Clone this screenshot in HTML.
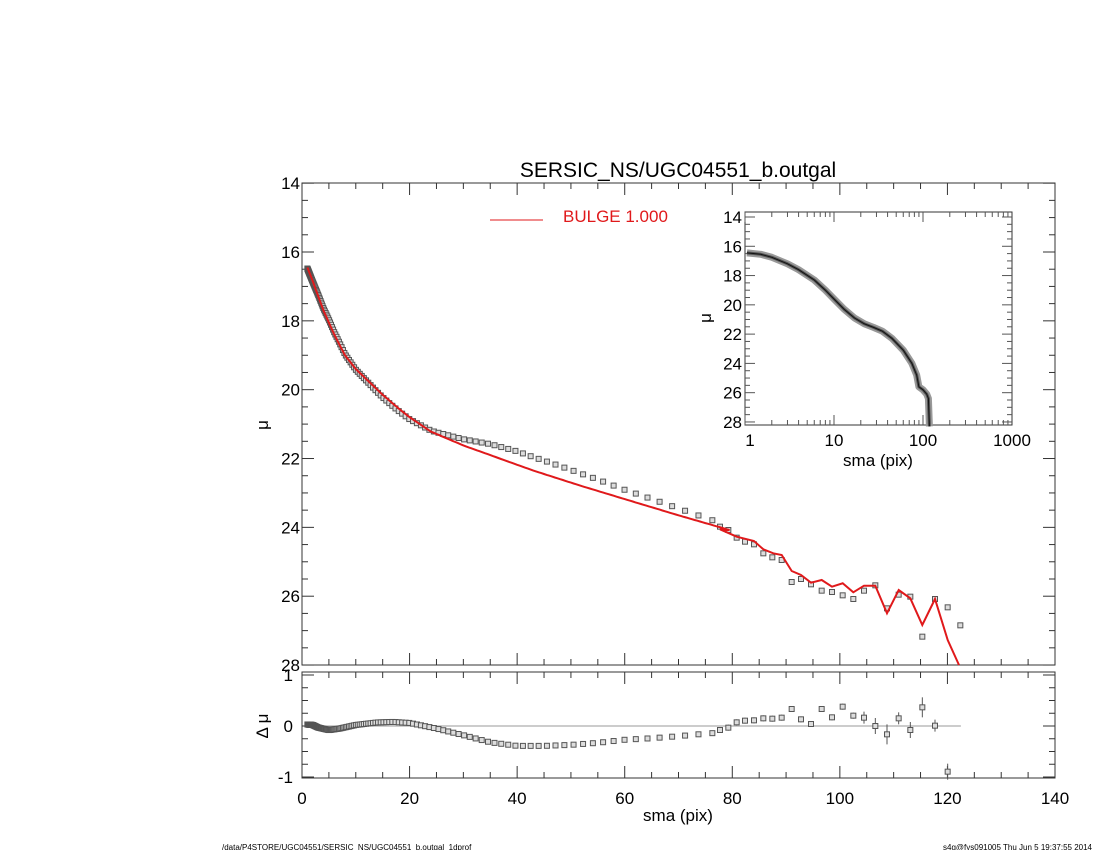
<!DOCTYPE html>
<html><head><meta charset="utf-8"><style>
html,body{margin:0;padding:0;background:#fff;width:1100px;height:850px;overflow:hidden}
svg{display:block;font-family:"Liberation Sans",sans-serif}
</style></head><body>
<svg id="s" width="1100" height="850" xmlns="http://www.w3.org/2000/svg"></svg>
<script>
const S=document.getElementById('s');let h='';
const L=302,R=1055,T=183,B=665;
const X=v=>L+v*(R-L)/140, Y=m=>252+(m-16)*34.42;
const RT=672,RB=778,RY=v=>726-51*v;
function interp(t,x){if(x<=t[0][0])return t[0][1];for(let i=1;i<t.length;i++){if(x<=t[i][0]){const a=t[i-1],b=t[i];return a[1]+(b[1]-a[1])*(x-a[0])/(b[0]-a[0]);}}return t[t.length-1][1];}
const model=[[1,16.45],[2,16.85],[4,17.7],[6,18.4],[8,19.0],[10,19.4],[12,19.7],[15,20.15],[18,20.55],[20,20.8],[24,21.22],[30,21.62],[43,22.35],[52,22.8],[61.5,23.25],[70,23.65],[80,24.1]];
const res=[[1,0.03],[2,0.02],[3,-0.03],[5,-0.08],[7,-0.05],[10,0.02],[14,0.07],[17,0.08],[20,0.06],[25,-0.05],[30,-0.18],[35,-0.32],[40,-0.39],[45,-0.39],[50,-0.37],[55,-0.33],[60,-0.27],[65,-0.24],[70,-0.2],[75,-0.15],[79,-0.12]];
const tz=[[0,80],[25,90],[50,113],[75,125],[102,133],[130,160],[157,172],[185,180],[215,246],[243,237],[273,253],[305,272],[336,276],[368,286],[400,297],[432,272],[466,256],[501,325],[536,284],[571,290],[607,410],[645,297],[683,322],[721,376]];
const tr=[[0,88],[50,110],[102,123],[130,148],[160,160],[185,165],[215,213],[243,225],[273,248],[305,240],[336,260],[368,250],[400,277],[432,257],[466,257],[501,340],[536,270],[571,295],[607,375],[645,297],[683,420],[717,495]];
const tres=[[0,690],[25,683],[50,667],[75,662],[102,661],[130,655],[157,656],[185,653],[215,627],[243,658],[273,672],[305,627],[336,652],[368,620],[400,647],[432,653],[466,678],[501,703],[536,655],[571,690],[607,622],[645,677],[683,815]];
function frame(x0,x1,y0,y1){h+=`<rect x="${x0}" y="${y0}" width="${x1-x0}" height="${y1-y0}" fill="none" stroke="#333" stroke-width="1"/>`;}
frame(L,R,T,B);frame(L,R,RT,RB);
for(let v=0;v<=140;v+=5){const x=X(v),len=v%20==0?12:6;
 h+=`<line x1="${x}" y1="${T}" x2="${x}" y2="${T+len}" stroke="#333"/><line x1="${x}" y1="${B}" x2="${x}" y2="${B-len}" stroke="#333"/>`;
 h+=`<line x1="${x}" y1="${RT}" x2="${x}" y2="${RT+len}" stroke="#333"/><line x1="${x}" y1="${RB}" x2="${x}" y2="${RB-len}" stroke="#333"/>`;
 if(v%20==0)h+=`<text x="${x}" y="804" font-size="17" text-anchor="middle">${v}</text>`;}
for(let m=14;m<=28;m+=0.5){const y=Y(m),len=m%2==0?12:6;
 h+=`<line x1="${L}" y1="${y}" x2="${L+len}" y2="${y}" stroke="#333"/><line x1="${R}" y1="${y}" x2="${R-len}" y2="${y}" stroke="#333"/>`;
 if(m%2==0)h+=`<text x="${L-2}" y="${y+6}" font-size="17" text-anchor="end">${m}</text>`;}
for(let v=-1;v<=1.01;v+=0.25){const y=RY(v),len=Math.abs(v%1)<0.01?12:6;
 h+=`<line x1="${L}" y1="${y}" x2="${L+len}" y2="${y}" stroke="#333"/><line x1="${R}" y1="${y}" x2="${R-len}" y2="${y}" stroke="#333"/>`;}
[[1,'1'],[0,'0'],[-1,'-1']].forEach(([v,t])=>h+=`<text x="${L-9}" y="${RY(v)+6}" font-size="17" text-anchor="end">${t}</text>`);
h+=`<line x1="${X(0.5)}" y1="${RY(0)}" x2="${X(122.5)}" y2="${RY(0)}" stroke="#999"/>`;
const xs=[];for(let x=1;x<77.5;x*=1.035)xs.push(x);
let dp='',rp='';
xs.forEach(x=>{const m=interp(model,x),r=interp(res,x);
 dp+=`<rect x="${X(x)-2.5}" y="${Y(m+r)-2.5}" width="5" height="5" fill="#ddd" stroke="#555" stroke-width="1"/>`;
 rp+=`<rect x="${X(x)-2.5}" y="${RY(r)-2.5}" width="5" height="5" fill="#ddd" stroke="#555" stroke-width="1"/>`;});
let pts=[];for(let x=1;x<79.9;x+=0.5)pts.push(X(x).toFixed(1)+','+Y(interp(model,x)).toFixed(1));
tr.forEach(([a,b])=>pts.push((720+a/3).toFixed(1)+','+(500+b/3).toFixed(1)));
tz.forEach(([a,b])=>dp+=`<rect x="${720+a/3-2.5}" y="${500+b/3-2.5}" width="5" height="5" fill="#ddd" stroke="#555"/>`);
tres.forEach(([a,b],i)=>{const x=720+a/3,y=500+b/3,e=i>14?6+i%3*2:3;
 rp+=`<line x1="${x}" y1="${y-e}" x2="${x}" y2="${y+e}" stroke="#555"/><rect x="${x-2.5}" y="${y-2.5}" width="5" height="5" fill="#ddd" stroke="#555"/>`;});
h+=dp+rp+`<polyline points="${pts.join(' ')}" fill="none" stroke="#e0191b" stroke-width="2"/>`;
h+=`<line x1="490" y1="220" x2="543" y2="220" stroke="#e0191b" stroke-width="1"/><text x="563" y="222" font-size="17" fill="#e0191b">BULGE  1.000</text>`;
h+=`<text x="678" y="177" font-size="21" text-anchor="middle">SERSIC_NS/UGC04551_b.outgal</text>`;
h+=`<text x="678" y="821" font-size="17" text-anchor="middle">sma (pix)</text>`;
h+=`<text transform="translate(268,425) rotate(-90)" font-size="17" text-anchor="middle">μ</text>`;
h+=`<text transform="translate(268,726) rotate(-90)" font-size="17" text-anchor="middle">Δ μ</text>`;
h+=`<text x="222" y="850" font-size="8">/data/P4STORE/UGC04551/SERSIC_NS/UGC04551_b.outgal_1dprof</text>`;
h+=`<text x="1092" y="850" font-size="8" text-anchor="end">s4g@fys091005  Thu Jun  5 19:37:55 2014</text>`;
const IL=745,IR=1012,IT=212,IB=425;const IX=v=>IL+89*Math.log10(v),IY=m=>217+(m-14)*14.64;
h+=`<rect x="${IL}" y="${IT}" width="${IR-IL}" height="${IB-IT}" fill="#fff" stroke="#333"/>`;
for(let d=1;d<1000;d*=10)for(let k=1;k<10;k++){const x=IX(d*k),len=k==1?10:5;
 h+=`<line x1="${x}" y1="${IT}" x2="${x}" y2="${IT+len}" stroke="#555"/><line x1="${x}" y1="${IB}" x2="${x}" y2="${IB-len}" stroke="#555"/>`;}
[1,10,100,1000].forEach(v=>h+=`<text x="${IX(v)+(v==1?5:0)}" y="446" font-size="17" text-anchor="middle">${v}</text>`);
for(let m=14;m<=28;m+=0.5){const y=IY(m),len=m%2==0?10:5;
 h+=`<line x1="${IL}" y1="${y}" x2="${IL+len}" y2="${y}" stroke="#555"/><line x1="${IR}" y1="${y}" x2="${IR-len}" y2="${y}" stroke="#555"/>`;
 if(m%2==0)h+=`<text x="${IL-3}" y="${y+6}" font-size="17" text-anchor="end">${m}</text>`;}
h+=`<text x="878" y="466" font-size="17" text-anchor="middle">sma (pix)</text>`;
h+=`<text transform="translate(711,318) rotate(-90)" font-size="17" text-anchor="middle">μ</text>`;
const ip=[[1.05,16.45],[1.5,16.55],[2,16.75],[3,17.2],[4,17.6],[6,18.3],[8,19.0],[10,19.6],[13,20.3],[17,20.9],[22,21.3],[28,21.55],[35,21.8],[45,22.3],[60,23.1],[75,24.0],[85,24.8],[90,25.6],[100,25.8],[110,26.1],[115,26.4],[118,28.3]];
const ips=ip.map(([a,b])=>IX(a).toFixed(1)+','+IY(b).toFixed(1)).join(' ');
h+=`<polyline points="${ips}" fill="none" stroke="#999" stroke-width="7" stroke-linejoin="round"/>`;
h+=`<polyline points="${ips}" fill="none" stroke="#555" stroke-width="3" stroke-linejoin="round"/>`;
h+=`<polyline points="${ips}" fill="none" stroke="#111" stroke-width="1"/>`;
S.innerHTML=h;
</script>
</body></html>
